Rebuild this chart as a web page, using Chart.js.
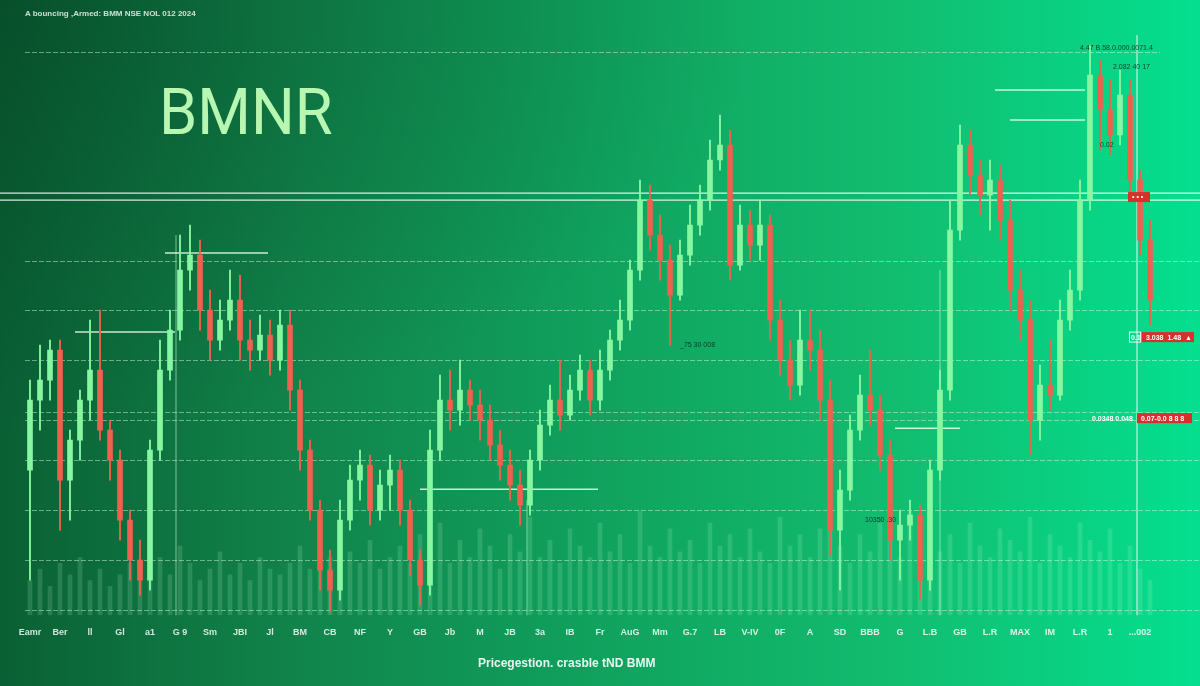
<!DOCTYPE html>
<html>
<head>
<meta charset="utf-8">
<script src="https://cdn.jsdelivr.net/npm/chart.js@4.4.1/dist/chart.umd.min.js"></script>
<style>
  body {
    margin: 0;
    width: 1200px;
    height: 686px;
    overflow: hidden;
    background:
      radial-gradient(ellipse at 0 0, rgba(0, 40, 20, 0.3), rgba(0, 40, 20, 0) 45%),
      linear-gradient(90deg, #0a6034 0%, #11844b 25%, #10a25e 50%, #12bd70 75%, #04df8f 100%);
  }
  #wrap { position: relative; width: 1200px; height: 686px; }
  #chart { position: absolute; left: 0; top: 0; }
  .topnote {
    position: absolute; left: 25px; top: 9px;
    font: bold 8px "Liberation Sans", sans-serif; color: rgba(255,255,255,0.8);
  }
  .title {
    position: absolute; left: 159px; top: 81px;
    font: 400 64px/1 Roboto, sans-serif; color: #b8f7b2;
    transform: scaleX(0.96); transform-origin: 0 0;
  }
  .footer {
    position: absolute; left: 478px; top: 656px;
    font: bold 12px "Liberation Sans", sans-serif; color: rgba(255,255,255,0.9);
  }
</style>
</head>
<body>
<div id="wrap">
  <canvas id="chart" width="1200" height="686"></canvas>
  <div class="topnote">A bouncing ,Armed: BMM NSE NOL 012 2024</div>
  <div class="title">BMNR</div>
  <div class="footer">Pricegestion. crasble tND BMM</div>
</div>
<script>
// candles (price units)
var opens = [
  15, 22, 24, 27, 14, 18, 22, 25, 19, 16,
  10, 6, 4, 17, 25, 29, 35, 36.5, 31, 28,
  30, 32, 28, 27, 28.5, 26, 29.5, 23, 17, 11,
  5, 3, 10, 14, 15.5, 11, 13.5, 15, 11, 6,
  3.5, 17, 22, 21, 23, 21.5, 20, 17.5, 15.5, 13.5,
  11.5, 16, 19.5, 22, 20.5, 23, 25, 22, 25, 28,
  30, 35, 42, 38.5, 36, 32.5, 36.5, 39.5, 42, 46,
  47.5, 35.5, 39.5, 37.5, 39.5, 30, 26, 23.5, 28, 27,
  22, 9, 13, 19, 22.5, 21, 16.5, 8, 9.5, 10.5,
  4, 15, 23, 39, 47.5, 44.5, 42.5, 44, 40, 33,
  30, 20, 23.5, 22.5, 30, 33, 42, 54.5, 51, 48.5,
  52.5, 44, 38
];
var closes = [
  22, 24, 27, 14, 18, 22, 25, 19, 16, 10,
  6, 4, 17, 25, 29, 35, 36.5, 31, 28, 30,
  32, 28, 27, 28.5, 26, 29.5, 23, 17, 11, 5,
  3, 10, 14, 15.5, 11, 13.5, 15, 11, 6, 3.5,
  17, 22, 21, 23, 21.5, 20, 17.5, 15.5, 13.5, 11.5,
  16, 19.5, 22, 20.5, 23, 25, 22, 25, 28, 30,
  35, 42, 38.5, 36, 32.5, 36.5, 39.5, 42, 46, 47.5,
  35.5, 39.5, 37.5, 39.5, 30, 26, 23.5, 28, 27, 22,
  9, 13, 19, 22.5, 21, 16.5, 8, 9.5, 10.5, 4,
  15, 23, 39, 47.5, 44.5, 42.5, 44, 40, 33, 30,
  20, 23.5, 22.5, 30, 33, 42, 54.5, 51, 48.5, 52.5,
  44, 38, 32
];
var highs = [
  24, 27.5, 28, 28, 19, 23, 30, 31, 20, 17,
  11, 8, 18, 28, 31, 38.5, 39.5, 38, 33, 32,
  35, 34.5, 30, 30.5, 30, 31, 31, 24, 18, 12,
  7, 12, 15.5, 17, 16.5, 15, 16.5, 16, 12, 7,
  19, 24.5, 25, 26, 24, 23, 21.5, 19, 17, 15,
  17, 21, 23.5, 26, 24.5, 26.5, 26, 27, 29, 32,
  36, 44, 43.5, 40.5, 37.5, 38, 41.5, 43.5, 48, 50.5,
  49, 41.5, 41, 42, 40.5, 32, 28, 31, 31, 29,
  24, 15, 20.5, 24.5, 27, 22.5, 18, 11, 12, 11.5,
  16, 25, 42, 49.5, 49, 46, 46, 45.5, 42, 35,
  32, 25.5, 28, 32, 35, 44, 57.5, 56, 54, 55,
  54, 45, 40
];
var lows = [
  4, 19, 22, 9, 10, 16, 20, 18, 14, 8,
  4, 2.5, 3, 16, 24, 28, 33, 29, 26, 27,
  29, 26, 25, 26, 24.5, 25, 21, 15, 10, 3,
  0.8, 2, 9, 12, 9.5, 10, 11, 9.5, 4.5, 1.5,
  2.5, 16, 19, 19.5, 20, 18, 16, 14, 12, 9.5,
  10.5, 15, 18.5, 19, 20, 22, 20.5, 21, 24, 27,
  29, 34, 37, 34, 27.5, 32, 35.5, 38.5, 41, 45,
  34, 35, 36, 36, 28, 24.5, 22, 22.5, 25, 20,
  6.5, 3, 12, 18, 19.5, 15, 6, 4, 8, 2,
  3, 14, 22, 38, 42.5, 40.5, 39, 38, 31, 28,
  16.5, 18, 21, 22, 29, 32, 41, 47, 46.5, 47.5,
  42, 36.5, 29.5
];
var volumes = [
  6, 8, 5, 9, 7, 10, 6, 8, 5, 7, 9, 6, 8,
  10, 7, 12, 9, 6, 8, 11, 7, 9, 6, 10, 8, 7,
  9, 12, 8, 14, 10, 7, 11, 9, 13, 8, 10, 12, 9,
  14, 11, 16, 9, 13, 10, 15, 12, 8, 14, 11, 17, 10,
  13, 9, 15, 12, 10, 16, 11, 14, 9, 18, 12, 10, 15,
  11, 13, 9, 16, 12, 14, 10, 15, 11, 9, 17, 12, 14,
  10, 15, 19, 12, 9, 14, 11, 16, 13, 10, 18, 12, 15,
  11, 14, 9, 16, 12, 10, 15, 13, 11, 17, 9, 14, 12,
  10, 16, 13, 11, 15, 9, 12, 8, 6
];

// axis text, one every 3 candles
var tickText = [
  "Eamr", "Ber", "ll", "Gl", "a1", "G 9", "Sm", "JBI", "Jl", "BM",
  "CB", "NF", "Y", "GB", "Jb", "M", "JB", "3a", "IB", "Fr",
  "AuG", "Mm", "G.7", "LB", "V-IV", "0F", "A", "SD", "BBB", "G",
  "L.B", "GB", "L.R", "MAX", "IM", "L.R", "1", "...002"
];

// horizontal levels
var gridLevels = [1, 6, 11, 16, 20, 20.8, 26, 31, 35.9, 56.8];
var brightLevels = [42.0, 42.7];

// short support lines [fromIndex, toIndex, price]
var supportLines = [
  [13.5, 23.8, 36.7],
  [4.5, 14.5, 28.8],
  [39, 56.8, 13.1],
  [86.5, 93, 19.2],
  [96.5, 105.5, 53],
  [98, 105.5, 50]
];

// vertical markers [index, topPrice]
var markers = [
  [14.6, 38.5],
  [49.7, 12],
  [91, 35],
  [110.7, 58.5]
];

var upColor = "#88f7a2";
var downColor = "#f0604e";

var slots = opens.map(function (_, i) { return i; });
var candleColors = opens.map(function (o, i) {
  return closes[i] >= o ? upColor : downColor;
});

var overlay = {
  id: "overlay",
  beforeDatasetsDraw: function (chart) {
    var ctx = chart.ctx;
    var xs = chart.scales.x;
    var ys = chart.scales.y;
    ctx.save();

    // grid
    ctx.lineWidth = 1;
    ctx.strokeStyle = "rgba(225,255,225,0.45)";
    ctx.setLineDash([5, 2]);
    for (var i = 0; i < gridLevels.length; i++) {
      var y = Math.round(ys.getPixelForValue(gridLevels[i])) + 0.5;
      ctx.beginPath();
      ctx.moveTo(25, y);
      ctx.lineTo(gridLevels[i] > 50 ? 1160 : 1200, y);
      ctx.stroke();
    }

    // double bright line
    ctx.setLineDash([]);
    ctx.strokeStyle = "rgba(255,255,255,0.85)";
    ctx.lineWidth = 1.3;
    for (var b = 0; b < brightLevels.length; b++) {
      var by = ys.getPixelForValue(brightLevels[b]);
      ctx.beginPath();
      ctx.moveTo(0, by);
      ctx.lineTo(1200, by);
      ctx.stroke();
    }

    // vertical markers
    ctx.lineWidth = 1.2;
    for (var m = 0; m < markers.length; m++) {
      var mx = xs.getPixelForValue(markers[m][0]);
      ctx.strokeStyle = m === markers.length - 1 ? "rgba(255,255,255,0.75)" : "rgba(230,255,235,0.45)";
      ctx.beginPath();
      ctx.moveTo(mx, ys.getPixelForValue(markers[m][1]));
      ctx.lineTo(mx, ys.getPixelForValue(0.5));
      ctx.stroke();
    }

    // support lines
    ctx.strokeStyle = "rgba(235,255,235,0.85)";
    ctx.lineWidth = 1.5;
    for (var s = 0; s < supportLines.length; s++) {
      var sy = ys.getPixelForValue(supportLines[s][2]);
      ctx.beginPath();
      ctx.moveTo(xs.getPixelForValue(supportLines[s][0]), sy);
      ctx.lineTo(xs.getPixelForValue(supportLines[s][1]), sy);
      ctx.stroke();
    }
    ctx.restore();
  },
  afterDatasetsDraw: function (chart) {
    var ctx = chart.ctx;
    var xs = chart.scales.x;
    var ys = chart.scales.y;
    ctx.save();
    ctx.textBaseline = "middle";

    // price tags on the right
    function tag(x, price, w, text) {
      var y = ys.getPixelForValue(price);
      ctx.fillStyle = "#d8302a";
      ctx.fillRect(x, y - 5, w, 10);
      ctx.fillStyle = "#ffffff";
      ctx.font = "bold 7px 'Liberation Sans', sans-serif";
      ctx.fillText(text, x + 4, y + 0.5);
    }
    tag(xs.getPixelForValue(109.8), 42.3, 22, "• • •");
    tag(xs.getPixelForValue(111.2), 28.3, 52, "3.038  1.48  ▲");
    tag(xs.getPixelForValue(110.7), 20.2, 55, "0.07-0.0 8 8 8");

    ctx.strokeStyle = "rgba(255,255,255,0.9)";
    ctx.lineWidth = 1;
    var bx = xs.getPixelForValue(110);
    var bY = ys.getPixelForValue(28.3);
    ctx.strokeRect(bx - 0.5, bY - 5, 11, 10);
    ctx.fillStyle = "#ffffff";
    ctx.font = "bold 7px 'Liberation Sans', sans-serif";
    ctx.fillText("0.1", bx + 1, bY + 0.5);
    ctx.fillText("0.0348 0.048", xs.getPixelForValue(106.2), ys.getPixelForValue(20.2) + 0.5);

    // small dark notes
    ctx.fillStyle = "rgba(10,40,25,0.85)";
    ctx.font = "7px 'Liberation Sans', sans-serif";
    ctx.fillText("4.47 B.58.0.000.0071.4", xs.getPixelForValue(105), ys.getPixelForValue(57.2));
    ctx.fillText("2.082 40 17", xs.getPixelForValue(108.3), ys.getPixelForValue(55.3));
    ctx.fillText("0.02", xs.getPixelForValue(107), ys.getPixelForValue(47.5));
    ctx.fillText("_75 30 008", xs.getPixelForValue(65), ys.getPixelForValue(27.5));
    ctx.fillText("10350 .30", xs.getPixelForValue(83.5), ys.getPixelForValue(10));
    ctx.restore();
  }
};

new Chart(document.getElementById("chart").getContext("2d"), {
  type: "bar",
  data: {
    labels: slots,
    datasets: [
      {
        label: "Volume",
        data: volumes,
        yAxisID: "y2",
        backgroundColor: "rgba(195,255,210,0.16)",
        barThickness: 4,
        grouped: false,
        order: 3
      },
      {
        label: "Wick",
        data: lows.map(function (l, i) { return [l, highs[i]]; }),
        backgroundColor: candleColors,
        barThickness: 1.2,
        grouped: false,
        order: 2
      },
      {
        label: "Body",
        data: opens.map(function (o, i) { return [o, closes[i]]; }),
        backgroundColor: candleColors,
        barThickness: 5,
        grouped: false,
        order: 1
      }
    ]
  },
  options: {
    responsive: false,
    animation: false,
    layout: { padding: { left: 25, right: 45, top: 40, bottom: 36 } },
    plugins: { legend: { display: false }, tooltip: { enabled: false } },
    scales: {
      x: {
        grid: { display: false, drawTicks: false },
        border: { display: false },
        ticks: {
          autoSkip: false,
          maxRotation: 0,
          padding: 12,
          color: "rgba(255,255,255,0.82)",
          font: { family: "Liberation Sans", size: 9, weight: "bold" },
          callback: function (value, index) {
            return index % 3 === 0 ? tickText[index / 3] : "";
          }
        }
      },
      y: { display: false, min: 0.5, max: 58 },
      y2: { display: false, min: 0, max: 100 }
    }
  },
  plugins: [overlay]
});
</script>
</body>
</html>
